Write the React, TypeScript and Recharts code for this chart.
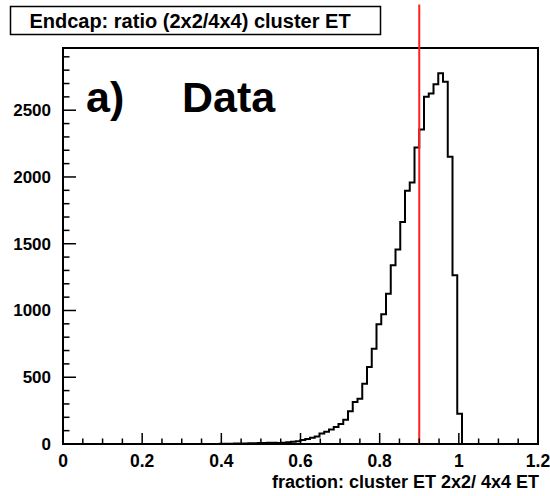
import { LineChart, Line, XAxis, YAxis, ReferenceArea, ReferenceLine } from 'recharts'

// histogram: 100 bins of 0.012 between 0 and 1.2, non-empty bins start at firstBin
const binWidth = 0.012
const nBins = 100
const firstBin = 33
const counts = [
  1, 2, 2, 3, 3, 4, 5, 6, 7, 8,
  9, 10, 8, 10, 13, 16, 20, 30, 38, 46,
  56, 78, 92, 108, 127, 150, 182, 246, 314, 339,
  451, 576, 714, 896, 971, 1126, 1339, 1456, 1663, 1896,
  1959, 2221, 2355, 2601, 2626, 2694, 2776, 2713, 2151, 1264,
  226,
]

const xMajorTicks = [0, 0.2, 0.4, 0.6, 0.8, 1, 1.2]
const xMinorStep = 0.05
const yMajorTicks = [0, 500, 1000, 1500, 2000, 2500]
const yMinorStep = 100
const yMax = 2966
const cutValue = 0.9

const title = 'Endcap: ratio (2x2/4x4) cluster ET'
const xTitle = 'fraction: cluster ET 2x2/ 4x4 ET'

const data = Array.from({ length: nBins + 1 }, (_, i) => {
  const k = i - firstBin
  const v = i < nBins && k >= 0 && k < counts.length ? counts[k] : 0
  return { x: +(i * binWidth).toFixed(4), n: v }
})

const xTicks = Array.from({ length: Math.round(1.2 / xMinorStep) + 1 }, (_, i) => +(i * xMinorStep).toFixed(3))
const yTicks = Array.from({ length: Math.floor(yMax / yMinorStep) + 1 }, (_, i) => i * yMinorStep)

const isMajor = (list: number[], v: number) => list.some((m) => Math.abs(m - v) < 1e-6)
const font = '"Liberation Sans", Arial, Helvetica, sans-serif'

const XTick = (props: any) => {
  const { x, y, payload } = props
  const major = isMajor(xMajorTicks, payload.value)
  return (
    <g>
      <line x1={x} x2={x} y1={y} y2={y - (major ? 11 : 5.5)} stroke="#000" strokeWidth={1.5} />
      {major && (
        <text x={x} y={y + 23} textAnchor="middle" fontSize={17.5} fontWeight="bold" fontFamily={font} fill="#000">
          {String(payload.value)}
        </text>
      )}
    </g>
  )
}

const YTick = (props: any) => {
  const { x, y, payload } = props
  const major = isMajor(yMajorTicks, payload.value)
  return (
    <g>
      <line x1={x} x2={x + (major ? 13 : 6.5)} y1={y} y2={y} stroke="#000" strokeWidth={1.5} />
      {major && (
        <text x={x - 12} y={y + 6} textAnchor="end" fontSize={17} fontWeight="bold" fontFamily={font} fill="#000">
          {String(payload.value)}
        </text>
      )}
    </g>
  )
}

export default function App() {
  return (
    <div style={{ position: 'absolute', left: 0, top: 0, width: 550, height: 496, background: '#fff' }}>
      <LineChart width={550} height={496} data={data} margin={{ top: 48, right: 12, bottom: 22, left: 0 }}>
        <XAxis
          dataKey="x"
          type="number"
          domain={[0, 1.2]}
          ticks={xTicks}
          interval={0}
          height={30}
          axisLine={false}
          tickLine={false}
          tickSize={0}
          tickMargin={0}
          tick={<XTick />}
          allowDataOverflow
        />
        <YAxis
          type="number"
          domain={[0, yMax]}
          ticks={yTicks}
          interval={0}
          width={63}
          axisLine={false}
          tickLine={false}
          tickSize={0}
          tickMargin={0}
          tick={<YTick />}
          allowDataOverflow
        />
        <ReferenceArea x1={0} x2={1.2} y1={0} y2={yMax} fill="none" stroke="#000" strokeWidth={2} ifOverflow="visible" />
        <Line
          type="stepAfter"
          dataKey="n"
          stroke="#000"
          strokeWidth={2}
          dot={false}
          isAnimationActive={false}
        />
        <ReferenceLine
          segment={[{ x: cutValue, y: 0 }, { x: cutValue, y: yMax * 1.11 }]}
          stroke="#ff2020"
          strokeWidth={2}
          ifOverflow="visible"
        />
      </LineChart>
      <svg width={550} height={496} style={{ position: 'absolute', left: 0, top: 0, pointerEvents: 'none' }}>
        <rect x={10.5} y={6.5} width={370} height={28} fill="#fff" stroke="#000" strokeWidth={1.5} />
        <text x={190} y={28} textAnchor="middle" fontSize={20} fontWeight="bold" fontFamily={font} fill="#000">
          {title}
        </text>
        <text x={86} y={112} fontSize={43} fontWeight="bold" fontFamily={font} fill="#000">a)</text>
        <text x={182} y={112} fontSize={43} fontWeight="bold" fontFamily={font} fill="#000">Data</text>
        <text x={539} y={488} textAnchor="end" fontSize={18} fontWeight="bold" fontFamily={font} fill="#000">
          {xTitle}
        </text>
      </svg>
    </div>
  )
}
